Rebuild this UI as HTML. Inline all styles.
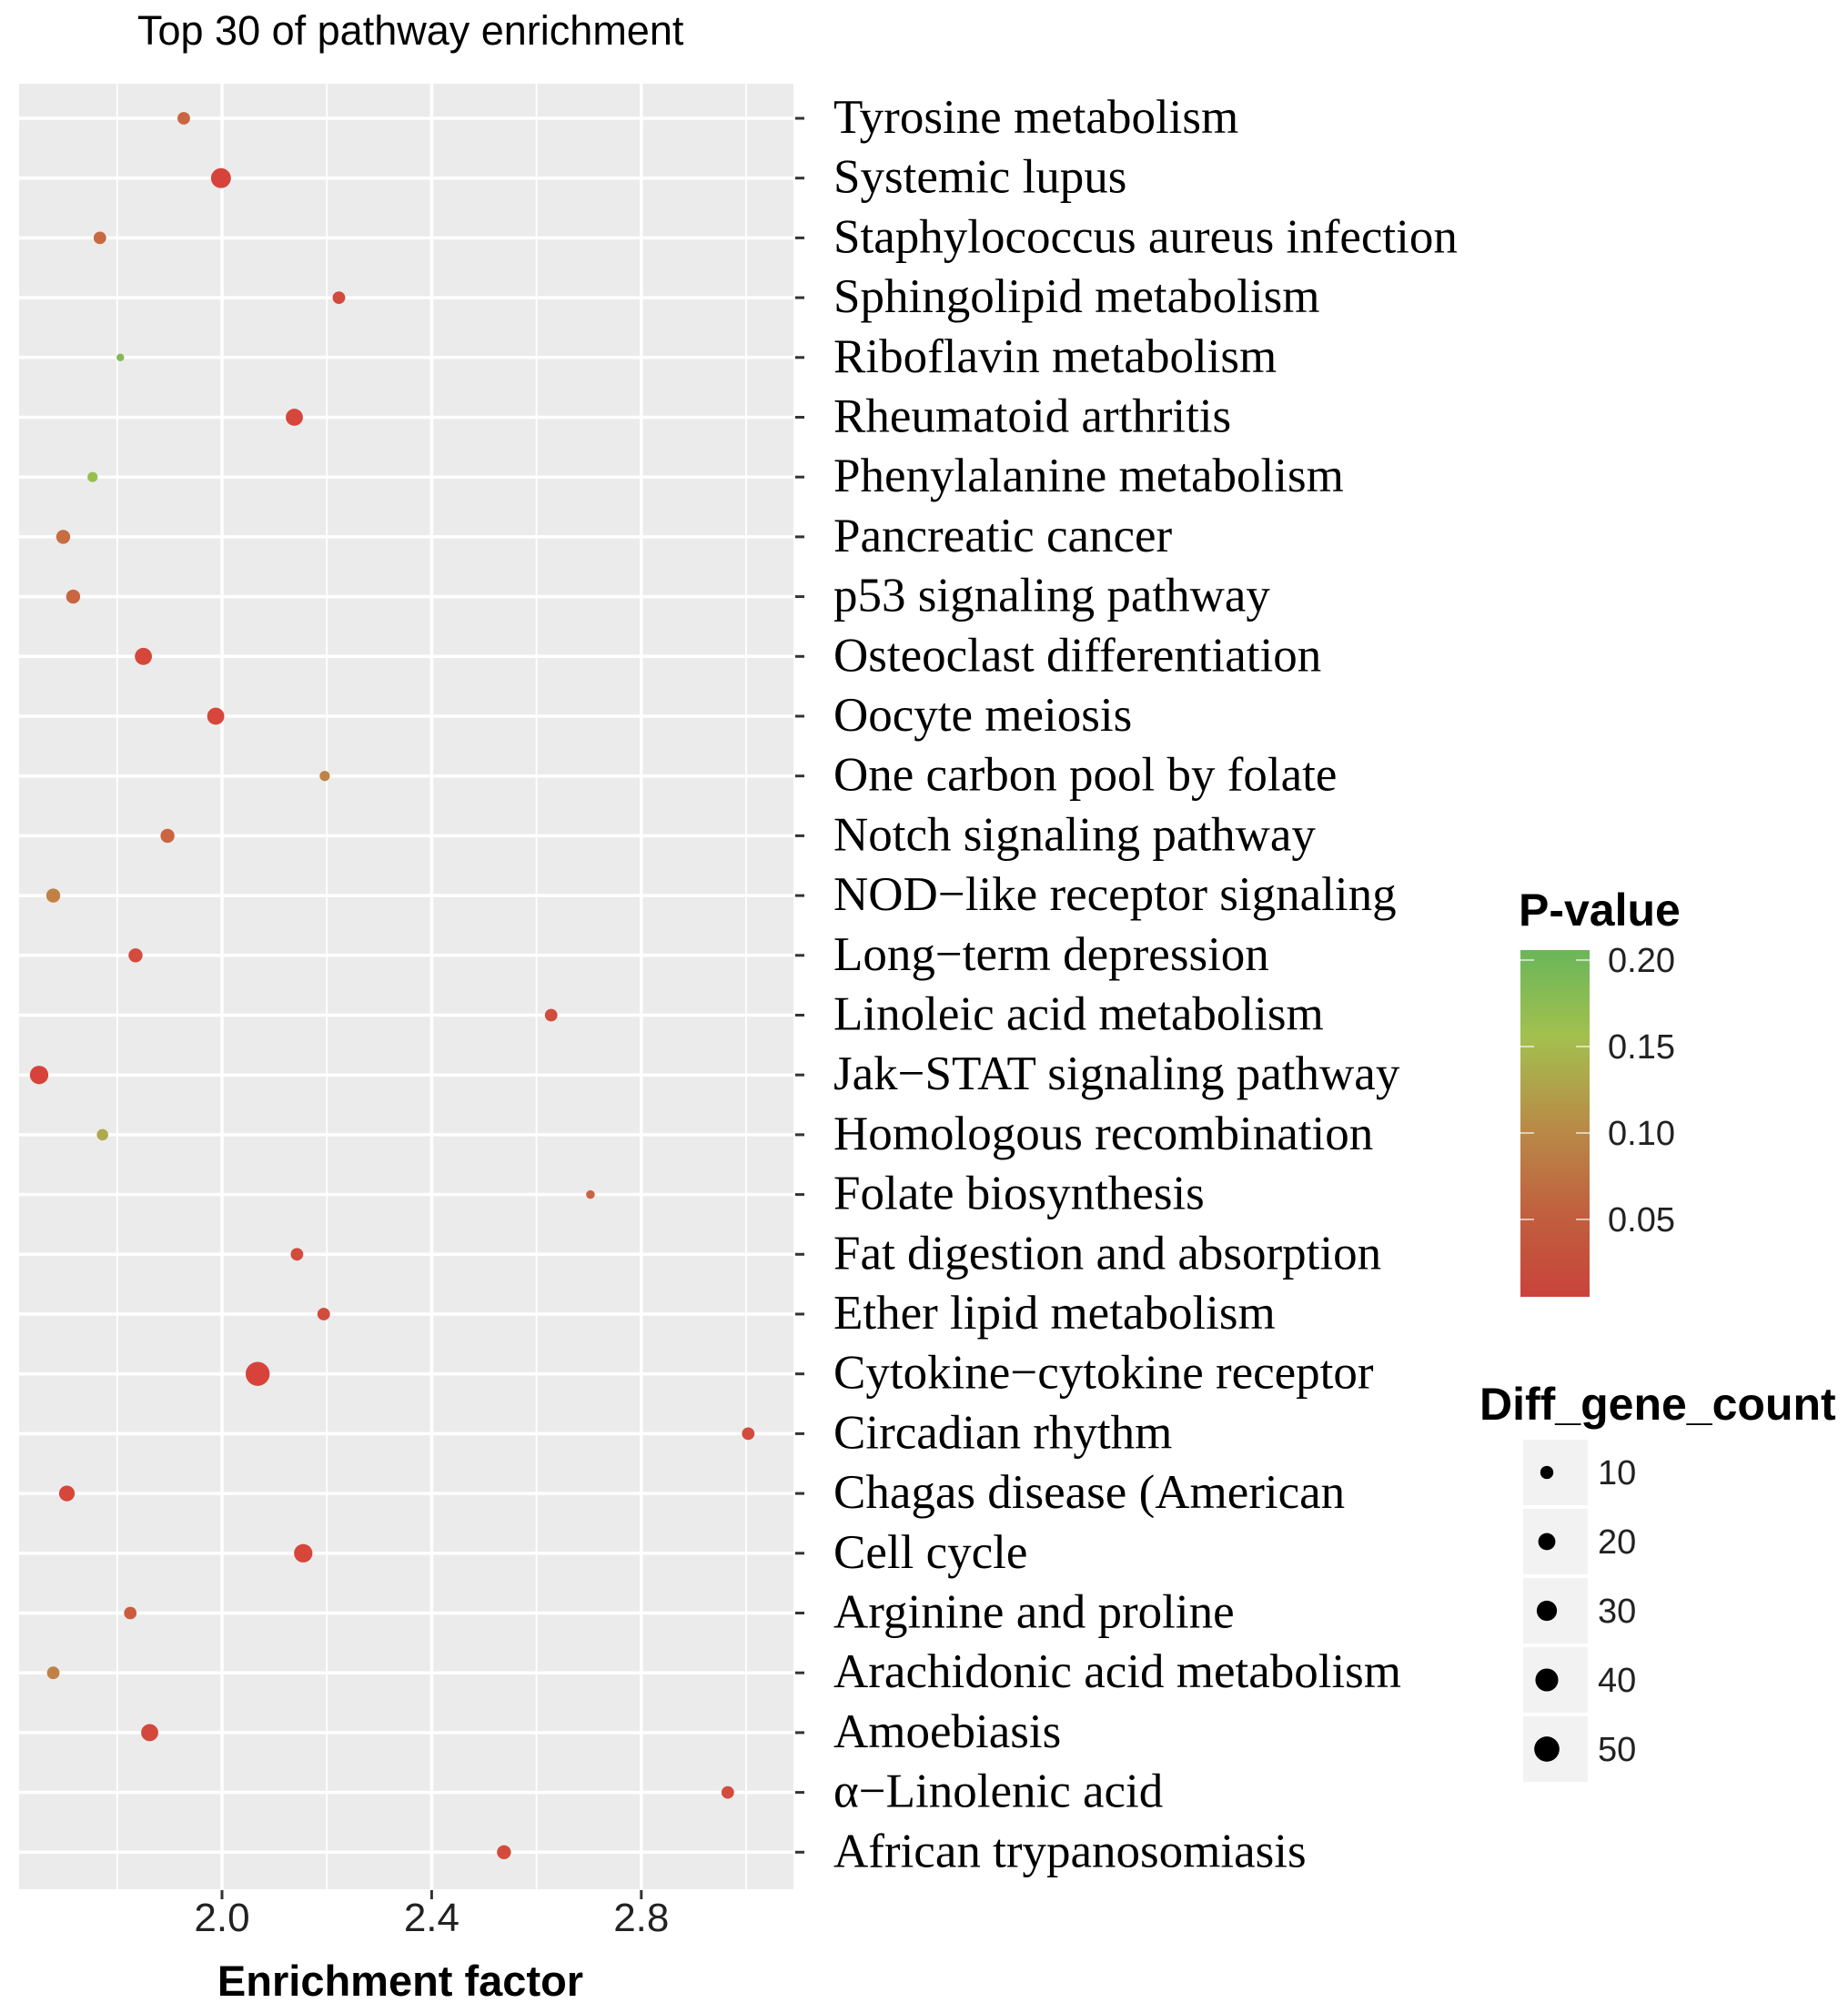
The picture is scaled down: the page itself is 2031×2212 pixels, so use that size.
<!DOCTYPE html>
<html><head><meta charset="utf-8"><style>
html,body{margin:0;padding:0;background:#fff;}
svg{display:block;}
</style></head><body>
<svg id="chart" width="2031" height="2212" viewBox="0 0 2031 2212" xmlns="http://www.w3.org/2000/svg">
<defs>
<linearGradient id="pgrad" x1="0" y1="1" x2="0" y2="0">
<stop offset="0" stop-color="#c9433b"/>
<stop offset="0.25" stop-color="#c0613f"/>
<stop offset="0.5" stop-color="#b88d47"/>
<stop offset="0.75" stop-color="#a3c04e"/>
<stop offset="1" stop-color="#6ab65a"/>
</linearGradient>
</defs>
<text x="151" y="49" font-family="Liberation Sans, sans-serif" font-size="45" fill="#000">Top 30 of pathway enrichment</text>
<rect x="21" y="92" width="851" height="1984" fill="#ebebeb"/>
<g id="grid"></g>
<g id="points"></g>
<g id="yaxis"></g>
<g id="xaxis"></g>
<text x="440" y="2193" text-anchor="middle" font-family="Liberation Sans, sans-serif" font-size="47" font-weight="bold" fill="#000">Enrichment factor</text>
<g id="legend-p"></g>
<g id="legend-size"></g>
</svg>
<script>
const categories = ["Tyrosine metabolism","Systemic lupus","Staphylococcus aureus infection","Sphingolipid metabolism","Riboflavin metabolism","Rheumatoid arthritis","Phenylalanine metabolism","Pancreatic cancer","p53 signaling pathway","Osteoclast differentiation","Oocyte meiosis","One carbon pool by folate","Notch signaling pathway","NOD\u2212like receptor signaling","Long\u2212term depression","Linoleic acid metabolism","Jak\u2212STAT signaling pathway","Homologous recombination","Folate biosynthesis","Fat digestion and absorption","Ether lipid metabolism","Cytokine\u2212cytokine receptor","Circadian rhythm","Chagas disease (American","Cell cycle","Arginine and proline","Arachidonic acid metabolism","Amoebiasis","\u03b1\u2212Linolenic acid","African trypanosomiasis"];
const enrichment = [1.927,1.998,1.767,2.223,1.806,2.138,1.753,1.697,1.716,1.850,1.988,2.196,1.896,1.678,1.835,2.628,1.651,1.772,2.703,2.143,2.194,2.068,3.004,1.704,2.155,1.825,1.678,1.862,2.965,2.538];
const geneCount = [9,29,9,9,2,20,5,12,12,20,20,5,12,12,12,9,24,7,3,9,9,45,9,16,24,9,9,20,9,12];
const pValue = [0.06,0.005,0.065,0.02,0.18,0.01,0.16,0.07,0.06,0.01,0.01,0.09,0.06,0.09,0.02,0.02,0.005,0.13,0.06,0.02,0.02,0.005,0.02,0.01,0.01,0.05,0.09,0.015,0.02,0.02];
const xTicks = [2.0,2.4,2.8];
const xTickLabels = ["2.0","2.4","2.8"];
const xMinor = [1.8,2.2,2.6,3.0];
const pTicks = [0.20,0.15,0.10,0.05];
const pTickLabels = ["0.20","0.15","0.10","0.05"];
const sizeBreaks = [10,20,30,40,50];

const NS="http://www.w3.org/2000/svg";
const PL=21,PR=872,PT=92,PB=2076;
function xs(v){return 244+(v-2.0)*576;}
function ys(i){return 130+i*65.7;}
function rs(c){return 1.7*Math.sqrt(c)+1.8;}
const stops=[[0,[216,64,58]],[0.05,[204,92,62]],[0.10,[190,138,70]],[0.15,[163,192,78]],[0.20,[106,182,90]]];
function col(p){
  p=Math.max(0,Math.min(0.2,p));
  for(let k=0;k<stops.length-1;k++){
    const a=stops[k],b=stops[k+1];
    if(p<=b[0]){const t=(p-a[0])/(b[0]-a[0]);
      return 'rgb('+a[1].map((c,j)=>Math.round(c+(b[1][j]-c)*t)).join(',')+')';}
  }
  return 'rgb(106,182,90)';
}
function mk(tag,attrs,parent){const e=document.createElementNS(NS,tag);for(const k in attrs)e.setAttribute(k,attrs[k]);parent.appendChild(e);return e;}

const grid=document.getElementById('grid');
xMinor.forEach(v=>{const x=xs(v);if(x>PL&&x<PR){
  const l=mk('line',{x1:x,x2:x,y1:PT,y2:PB,stroke:'#fff','stroke-width':1.8},grid);
  
  }});
xTicks.forEach(v=>{const x=xs(v);
  const l=mk('line',{x1:x,x2:x,y1:PT,y2:PB,stroke:'#fff','stroke-width':3.5},grid);
  
  });
categories.forEach((c,i)=>{const y=ys(i);
  const l=mk('line',{x1:PL,x2:PR,y1:y,y2:y,stroke:'#fff','stroke-width':3.5},grid);
  
  });

const pts=document.getElementById('points');
categories.forEach((c,i)=>{
  const d=mk('circle',{cx:xs(enrichment[i]),cy:ys(i),r:rs(geneCount[i]),fill:col(pValue[i])},pts);
  
  
});

const ya=document.getElementById('yaxis');
categories.forEach((c,i)=>{const y=ys(i);
  const t=mk('line',{x1:874,x2:884,y1:y,y2:y,stroke:'#333','stroke-width':3},ya);
  
  
  const tx=mk('text',{x:916,y:y+16,'font-family':'Liberation Serif, serif','font-size':53,fill:'#000'},ya);
  tx.textContent=c;
  
  
});

const xa=document.getElementById('xaxis');
xTicks.forEach((v,i)=>{const x=xs(v);
  const t=mk('line',{x1:x,x2:x,y1:PB+1,y2:PB+11,stroke:'#333','stroke-width':3},xa);
  
  
  const tx=mk('text',{x:x,y:2122,'text-anchor':'middle','font-family':'Liberation Sans, sans-serif','font-size':44,fill:'#222'},xa);
  tx.textContent=xTickLabels[i];
  
  
});

const lp=document.getElementById('legend-p');
const lt=mk('text',{x:1669,y:1017,'font-family':'Liberation Sans, sans-serif','font-size':50,'font-weight':'bold',fill:'#000'},lp);
lt.textContent='P-value';


const CB_T=1044,CB_B=1425;
function cy(p){return 1435-p*1900;}
const bar=mk('rect',{x:1671,y:CB_T,width:76,height:CB_B-CB_T,fill:'url(#pgrad)'},lp);


pTicks.forEach((p,i)=>{const y=cy(p);
  const a=mk('line',{x1:1671,x2:1686,y1:y,y2:y,stroke:'#fff','stroke-width':1.5,opacity:0.8},lp);
  
  
  const b=mk('line',{x1:1732,x2:1747,y1:y,y2:y,stroke:'#fff','stroke-width':1.5,opacity:0.8},lp);
  
  
  const t=mk('text',{x:1767,y:y+13,'font-family':'Liberation Sans, sans-serif','font-size':38,fill:'#222'},lp);
  t.textContent=pTickLabels[i];
  
  
});

const ls=document.getElementById('legend-size');
const st=mk('text',{x:1626,y:1560,'font-family':'Liberation Sans, sans-serif','font-size':50,'font-weight':'bold',fill:'#000'},ls);
st.textContent='Diff_gene_count';


sizeBreaks.forEach((s,i)=>{const c=1618+i*76;
  const k=mk('rect',{x:1674,y:c-36,width:71,height:72,fill:'#f2f2f2'},ls);
  
  
  const d=mk('circle',{cx:1700,cy:c,r:rs(s),fill:'#000'},ls);
  
  
  const t=mk('text',{x:1756,y:c+13,'font-family':'Liberation Sans, sans-serif','font-size':38,fill:'#222'},ls);
  t.textContent=String(s);
  
  
});
</script>
</body></html>
